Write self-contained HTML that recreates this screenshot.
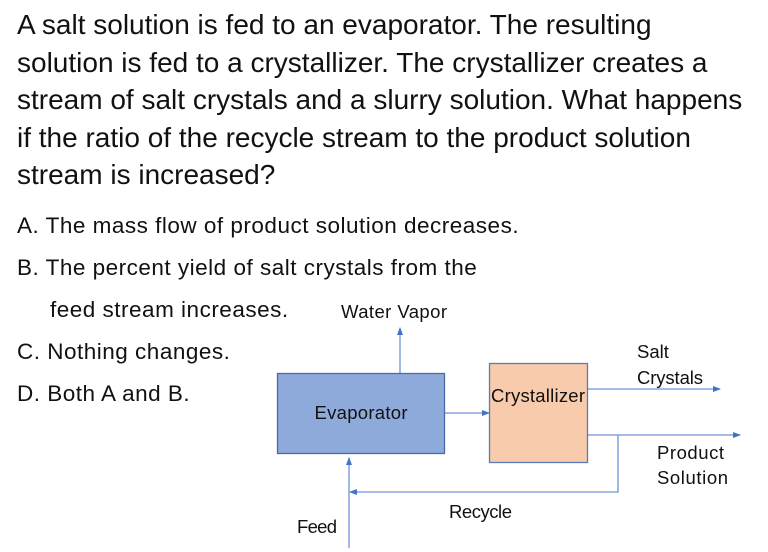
<!DOCTYPE html>
<html><head><style>
body{margin:0;width:768px;height:552px;background:#fff;position:relative;overflow:hidden;font-family:"Liberation Sans",sans-serif;color:#111}
.q{position:absolute;left:17px;top:6px;font-size:28px;line-height:37.6px;width:760px;white-space:nowrap}
.o{position:absolute;left:17px;font-size:22.5px;line-height:24px;white-space:nowrap;letter-spacing:0.5px}
svg{position:absolute;left:0;top:0}
svg text{font-family:"Liberation Sans",sans-serif;font-size:18.5px;fill:#111}
</style></head><body>
<div class="q">A salt solution is fed to an evaporator. The resulting<br>solution is fed to a crystallizer. The crystallizer creates a<br>stream of salt crystals and a slurry solution. What happens<br>if the ratio of the recycle stream to the product solution<br>stream is increased?</div>
<div class="o" style="top:214px">A. The mass flow of product solution decreases.</div>
<div class="o" style="top:256px">B. The percent yield of salt crystals from the</div>
<div class="o" style="top:298px;left:50px">feed stream increases.</div>
<div class="o" style="top:340px">C. Nothing changes.</div>
<div class="o" style="top:382px">D. Both A and B.</div>
<svg width="768" height="552">
<defs><marker id="a" markerWidth="8" markerHeight="8" refX="7" refY="4" orient="auto" markerUnits="userSpaceOnUse"><path d="M0,1 L8,4 L0,7z" fill="#4472c4"/></marker></defs>
<g stroke="#6f93d6" stroke-width="1.3" fill="none">
<line x1="400" y1="373" x2="400" y2="328" marker-end="url(#a)"/>
<line x1="445" y1="413" x2="489" y2="413" marker-end="url(#a)"/>
<line x1="588" y1="389" x2="720" y2="389" marker-end="url(#a)"/>
<line x1="588" y1="435" x2="740" y2="435" marker-end="url(#a)"/>
<polyline points="618,435 618,492 350,492" marker-end="url(#a)"/>
<line x1="349" y1="548" x2="349" y2="458" marker-end="url(#a)"/>
</g>
<rect x="277.5" y="373.5" width="167" height="80" fill="#8eaadb" stroke="#4a6aa8" stroke-width="1.3"/>
<rect x="489.5" y="363.5" width="98" height="99" fill="#f8cbad" stroke="#5b7bbb" stroke-width="1.3"/>
<text x="361" y="419" text-anchor="middle" textLength="93">Evaporator</text>
<text x="538" y="402" text-anchor="middle" textLength="94">Crystallizer</text>
<text x="394" y="318" text-anchor="middle" textLength="106">Water Vapor</text>
<text x="637" y="358">Salt</text>
<text x="637" y="384" textLength="66">Crystals</text>
<text x="657" y="459" textLength="67">Product</text>
<text x="657" y="484" textLength="71">Solution</text>
<text x="449" y="518" textLength="63">Recycle</text>
<text x="297" y="533" textLength="40">Feed</text>
</svg>
</body></html>
